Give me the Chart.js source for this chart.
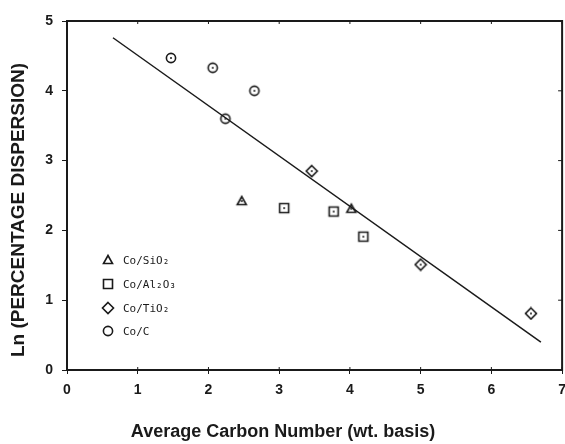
<!DOCTYPE html>
<html>
<head>
<meta charset="utf-8">
<script src="https://cdn.jsdelivr.net/npm/chart.js@4/dist/chart.umd.min.js"></script>
<style>
  html, body { margin: 0; padding: 0; background: #fff; overflow: hidden; }
  #wrap { width: 565px; height: 444px; overflow: hidden; }
</style>
</head>
<body>
<div id="wrap"><canvas id="myChart" width="574" height="444"></canvas></div>
<script>
'use strict';

// data
let labels = ['Co/SiO\u2082', 'Co/Al\u2082O\u2083', 'Co/TiO\u2082', 'Co/C'];
let sio2X = [2.47, 4.02];
let sio2Y = [2.42, 2.31];
let al2o3X = [3.07, 3.77, 4.19];
let al2o3Y = [2.32, 2.27, 1.91];
let tio2X = [3.46, 5.0, 6.56];
let tio2Y = [2.85, 1.51, 0.81];
let carbonX = [1.47, 2.06, 2.24, 2.65];
let carbonY = [4.47, 4.33, 3.60, 4.0];
let fitX = [0.65, 6.70];
let fitY = [4.76, 0.40];
let xTicks = [0, 1, 2, 3, 4, 5, 6, 7];
let yTicks = [0, 1, 2, 3, 4, 5];

const ink = '#1a1a1a';

function pairs(xs, ys) {
  let out = [];
  for (let i = 0; i < xs.length; i++) {
    out.push({ x: xs[i], y: ys[i] });
  }
  return out;
}

// hollow symbol with a dot in the middle
function makeSymbol(shape, dot) {
  const c = document.createElement('canvas');
  c.width = 14;
  c.height = 14;
  const g = c.getContext('2d');
  g.strokeStyle = ink;
  g.fillStyle = ink;
  g.lineWidth = 1.6;
  g.beginPath();
  if (shape === 'triangle') {
    g.moveTo(7, 2.5); g.lineTo(11.5, 10.5); g.lineTo(2.5, 10.5); g.closePath();
  } else if (shape === 'square') {
    g.rect(2.5, 2.5, 9, 9);
  } else if (shape === 'diamond') {
    g.moveTo(7, 1.5); g.lineTo(12.5, 7); g.lineTo(7, 12.5); g.lineTo(1.5, 7); g.closePath();
  } else {
    g.arc(7, 7, 4.6, 0, Math.PI * 2);
  }
  g.stroke();
  if (dot) {
    g.beginPath();
    g.arc(7, 7, 1, 0, Math.PI * 2);
    g.fill();
  }
  return c;
}

let shapes = ['triangle', 'square', 'diamond', 'circle'];

// frame, inward ticks on top/right, titles and legend
const extras = {
  id: 'extras',
  afterDraw(chart) {
    const ctx = chart.ctx;
    const a = chart.chartArea;
    const xs = chart.scales.x;
    const ys = chart.scales.y;
    ctx.save();
    ctx.strokeStyle = ink;
    ctx.lineWidth = 2;
    ctx.strokeRect(a.left, a.top, a.right - a.left, a.bottom - a.top);
    ctx.lineWidth = 1;
    ctx.beginPath();
    xTicks.forEach(v => {
      const px = xs.getPixelForValue(v);
      ctx.moveTo(px, a.top); ctx.lineTo(px, a.top + 3);
      ctx.moveTo(px, a.bottom); ctx.lineTo(px, a.bottom - 3);
    });
    yTicks.forEach(v => {
      const py = ys.getPixelForValue(v);
      ctx.moveTo(a.right, py); ctx.lineTo(a.right - 4, py);
    });
    ctx.stroke();

    // axis titles
    ctx.fillStyle = ink;
    ctx.font = 'bold 18px "Liberation Sans", Arial, sans-serif';
    ctx.textAlign = 'center';
    ctx.textBaseline = 'middle';
    ctx.fillText('Average Carbon Number (wt. basis)', 283, 432);
    ctx.save();
    ctx.translate(19, 210);
    ctx.rotate(-Math.PI / 2);
    ctx.font = 'bold 19px "Liberation Sans", Arial, sans-serif';
    ctx.fillText('Ln (PERCENTAGE DISPERSION)', 0, 0);
    ctx.restore();

    // legend
    ctx.font = '11px "DejaVu Sans Mono", monospace';
    ctx.textAlign = 'left';
    let ly = [260, 284, 308, 331];
    for (let i = 0; i < labels.length; i++) {
      ctx.drawImage(makeSymbol(shapes[i], false), 101, ly[i] - 7);
      ctx.fillText(labels[i], 123, ly[i] + 1);
    }
    ctx.restore();
  }
};

let ctx = document.getElementById('myChart').getContext('2d');

let myChart = new Chart(ctx, {
  type: 'scatter',
  data: {
    datasets: [{
      label: labels[0],
      data: pairs(sio2X, sio2Y),
      pointStyle: makeSymbol('triangle', true),
      pointRadius: 7
    }, {
      label: labels[1],
      data: pairs(al2o3X, al2o3Y),
      pointStyle: makeSymbol('square', true),
      pointRadius: 7
    }, {
      label: labels[2],
      data: pairs(tio2X, tio2Y),
      pointStyle: makeSymbol('diamond', true),
      pointRadius: 7
    }, {
      label: labels[3],
      data: pairs(carbonX, carbonY),
      pointStyle: makeSymbol('circle', true),
      pointRadius: 7
    }, {
      type: 'line',
      label: 'fit',
      data: pairs(fitX, fitY),
      borderColor: ink,
      borderWidth: 1.5,
      pointRadius: 0,
      fill: false
    }]
  },
  options: {
    responsive: false,
    animation: false,
    layout: { padding: { top: 21, right: 0, left: 0, bottom: 0 } },
    plugins: {
      legend: { display: false },
      tooltip: { enabled: false }
    },
    scales: {
      x: {
        type: 'linear',
        min: 0,
        max: 7,
        afterFit: s => { s.height = 74; },
        afterBuildTicks: s => { s.ticks = xTicks.map(v => ({ value: v })); },
        grid: { drawOnChartArea: false, tickLength: 4, color: ink },
        border: { display: true, color: ink, width: 2 },
        ticks: {
          color: ink,
          padding: 8,
          font: { family: '"Liberation Sans", Arial, sans-serif', size: 14, weight: 'bold' }
        }
      },
      y: {
        type: 'linear',
        min: 0,
        max: 5,
        afterFit: s => { s.width = 67; },
        afterBuildTicks: s => { s.ticks = yTicks.map(v => ({ value: v })); },
        grid: { drawOnChartArea: false, tickLength: 5, color: ink },
        border: { display: true, color: ink, width: 2 },
        ticks: {
          color: ink,
          padding: 9,
          font: { family: '"Liberation Sans", Arial, sans-serif', size: 14, weight: 'bold' }
        }
      }
    }
  },
  plugins: [extras]
});
</script>
</body>
</html>
